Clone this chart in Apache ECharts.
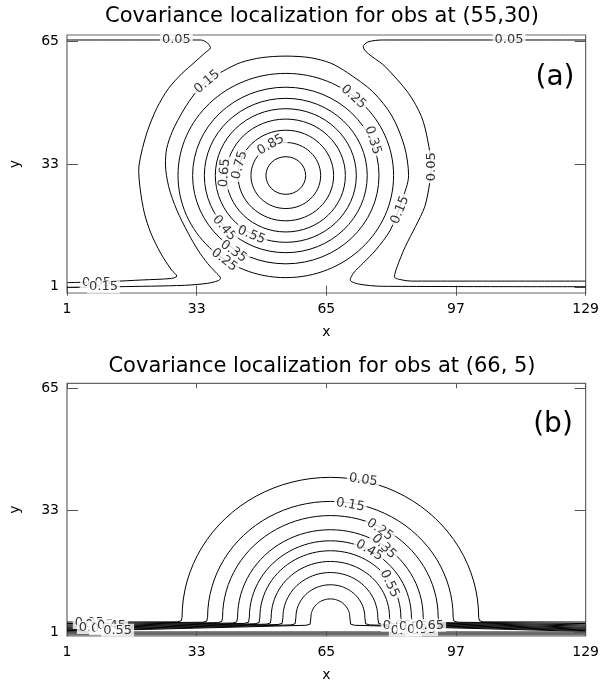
<!DOCTYPE html>
<html>
<head>
<meta charset="utf-8">
<script src="https://cdn.jsdelivr.net/npm/echarts@6/dist/echarts.min.js"></script>
<style>
html,body{margin:0;padding:0;background:#fff;}
#chart{width:602px;height:683px;}
</style>
</head>
<body>
<div id="chart"></div>
<script>
// ---------------- data ----------------
const xTicks = [1, 33, 65, 97, 129];
const yTicks = [1, 33, 65];
const levels = [0.05, 0.15, 0.25, 0.35, 0.45, 0.55, 0.65, 0.75, 0.85, 0.95];

// panel (a): obs at (55,30)
const obsA = [55, 30];
// radii (grid units) of the closed contours 0.25 ... 0.95
const radiiA = [26.6, 23.0, 20.1, 17.4, 14.7, 11.8, 8.6, 4.9];
// open contours
const c005A_left = [[1,65.3],[34.0,65.3],[35.7,64.5],[36.4,63.3],[35.0,61.9],[32.6,59.6],[29.4,56.6],[26.0,52.6],[23.1,47.4],[20.8,41.4],[19.3,35.6],[18.7,31.4],[19.1,26.2],[20.1,20.2],[21.7,15.0],[24.1,9.8],[26.8,5.4],[28.1,3.8],[26.8,3.2],[19.6,2.8],[11.7,2.4],[1,2.1]];
const c005A_right = [[129,65.3],[78.9,65.3],[75.3,64.8],[74.1,63.6],[79.6,58.3],[85.3,51.4],[88.5,45.3],[90.0,39.3],[90.9,32.3],[90.5,28.0],[89.3,21.9],[87.0,16.7],[84.5,11.5],[82.5,6.3],[81.8,3.6],[83.7,2.8],[86.1,2.5],[129,2.5]];
const c015A = [[1,0.88],[13.6,1.04],[30,1.4],[35.7,1.93],[38.3,2.6],[38.9,3.2],[37.6,4.9],[35.7,7.1],[33.3,10.6],[30.9,15.0],[28.1,21.0],[26.1,27.1],[25.3,33.0],[25.6,37.0],[27.0,41.5],[29.8,47.1],[32.6,51.4],[35.6,54.6],[39.7,57.3],[43.8,59.4],[49,60.7],[55.0,61.1],[61,60.7],[66,59.3],[70.2,56.8],[76.5,51.8],[81.2,45.5],[84.3,37.5],[85.3,30],[83.7,23.6],[80.8,15.8],[77.2,10.6],[74.1,7.2],[71.7,4.6],[70.9,2.8],[72.9,1.75],[78.9,1.15],[129,1.04]];
const labelsA = [
  ['0.05',28.0,65.3,0],['0.05',110.1,65.3,0],['0.15',35.6,54.4,40],['0.25',71.7,50.5,-42],
  ['0.35',76.5,39.2,-72],['0.05',90.9,32.3,90],['0.15',83.2,21.0,68],['0.85',51.3,38.0,30],
  ['0.75',43.6,32.7,75],['0.65',39.9,30.7,85],['0.45',39.8,16.3,-50],['0.55',46.5,14.5,-22],
  ['0.35',42.1,10.2,-35],['0.25',39.8,8.0,-38],['0.05',8.3,2.1,0],['0.15',10.0,0.96,0]
];

// panel (b): obs at (66, 5)
const obsB = [66, 5];
const radiiB = [36.6, 30.3, 26.6, 22.9, 20.0, 17.4, 14.6, 11.7, 8.5, 4.8];
const footB  = [3.9, 3.8, 3.7, 3.6, 3.5, 3.4, 3.3, 3.2, 3.1, 3.0];
const edgeB  = [3.75, 3.35, 3.0, 2.7, 2.4, 2.15, 1.9, 1.7, 1.5, 1.3];
const lowB   = [0.35, 0.45, 0.55, 0.65, 0.75, 0.85, 0.95, 1.05, 1.15, 1.25];
const labelsB = [
  ['0.05',74.1,40.9,-8],['0.15',70.9,34.4,-10],['0.25',78.2,27.9,-35],['0.35',79.2,23.5,-45],
  ['0.45',75.6,22.5,-30],['0.55',80.6,13.8,-65],
  ['0.05',6.5,3.6,0],['0.15',9.0,3.1,0],['0.25',7.5,2.3,0],['0.35',10.5,2.0,0],['0.45',12.0,2.8,0],['0.55',13.5,1.6,0],
  ['0.65',82.5,2.9,0],['0.75',84.5,1.6,0],['0.85',86.5,2.6,0],['0.95',88.5,1.8,0],['0.65',90.5,2.9,0]
];

// ---------------- chart ----------------
const FONT = 'DejaVu Sans';
const chart = echarts.init(document.getElementById('chart'), null, {renderer:'canvas'});
const grids = [
  {left:55.5, top:35, width:533, height:258, show:true, borderColor:'#666', borderWidth:1.2, backgroundColor:'transparent'},
  {left:55.5, top:383.3, width:533, height:256.7, show:true, borderColor:'#666', borderWidth:1.2, backgroundColor:'transparent'}
];
const yRanges = [[-0.6, 66.6], [0.1, 66.2]];

const xAxes = [], yAxes = [];
[0,1].forEach(g => {
  xAxes.push({gridIndex:g, type:'value', min:1, max:129, position:'bottom',
    axisLine:{show:false}, splitLine:{show:false},
    axisTick:{show:true, inside:true, length:5, customValues:xTicks, lineStyle:{color:'#555'}},
    axisLabel:{show:true, customValues:xTicks, margin:9, fontSize:14, fontFamily:FONT, color:'#000'},
    name:'x', nameLocation:'middle', nameGap:32, nameTextStyle:{fontSize:14, fontFamily:FONT, color:'#000'}});
  xAxes.push({gridIndex:g, type:'value', min:1, max:129, position:'top',
    axisLine:{show:false}, splitLine:{show:false},
    axisTick:{show:true, inside:true, length:5, customValues:xTicks, lineStyle:{color:'#555'}},
    axisLabel:{show:false}});
  yAxes.push({gridIndex:g, type:'value', min:yRanges[g][0], max:yRanges[g][1], position:'left',
    axisLine:{show:false}, splitLine:{show:false},
    axisTick:{show:true, inside:true, length:11, customValues:yTicks, lineStyle:{color:'#555'}},
    axisLabel:{show:true, customValues:yTicks, margin:8, fontSize:14, fontFamily:FONT, color:'#000'},
    name:'y', nameLocation:'middle', nameGap:45, nameRotate:90, nameTextStyle:{fontSize:14, fontFamily:FONT, color:'#000'}});
  yAxes.push({gridIndex:g, type:'value', min:yRanges[g][0], max:yRanges[g][1], position:'right',
    axisLine:{show:false}, splitLine:{show:false},
    axisTick:{show:true, inside:true, length:11, customValues:yTicks, lineStyle:{color:'#555'}},
    axisLabel:{show:false}});
});

const lineStyle = {color:'#000', width:1};
function contourLine(data, g) {
  return {type:'line', xAxisIndex:g*2, yAxisIndex:g*2, data:data, showSymbol:false, symbol:'none',
    smooth:0.3, lineStyle:lineStyle, silent:true, z:2};
}
function labelSeries(list, g) {
  return {type:'scatter', xAxisIndex:g*2, yAxisIndex:g*2, symbolSize:0, silent:true, z:5,
    data: list.map(l => ({value:[l[1], l[2]], label:{show:true, formatter:l[0], rotate:l[3]}})),
    label:{show:true, position:'inside', fontSize:13, fontFamily:FONT, color:'#000',
      backgroundColor:'#fff', padding:[0,2]}};
}

const series = [
  // panel (a) closed contours
  {type:'custom', xAxisIndex:0, yAxisIndex:0, silent:true, z:2,
   data: radiiA.map(r => [obsA[0], obsA[1], r]),
   renderItem: (params, api) => {
     const c = api.coord([api.value(0), api.value(1)]);
     const s = api.size([api.value(2), api.value(2)], [api.value(0), api.value(1)]);
     return {type:'ellipse', shape:{cx:c[0], cy:c[1], rx:s[0], ry:s[1]},
       style:{stroke:'#000', fill:'none', lineWidth:1}};
   }},
  contourLine(c005A_left, 0),
  contourLine(c005A_right, 0),
  contourLine(c015A, 0),
  labelSeries(labelsA, 0),
  // panel (b) contours
  {type:'custom', xAxisIndex:2, yAxisIndex:2, silent:true, z:2,
   data: radiiB.map((r, i) => [r, footB[i], edgeB[i], lowB[i]]),
   renderItem: (params, api) => {
     const r = api.value(0), fy = api.value(1), ey = api.value(2), ly = api.value(3);
     const cx = obsB[0], cy = obsB[1];
     const pts = [];
     pts.push(api.coord([1, ey]));
     pts.push(api.coord([cx - r - 1.2, fy - 0.1]));
     pts.push(api.coord([cx - r - 0.2, fy + 0.2]));
     for (let k = 0; k <= 48; k++) {
       const t = Math.PI * (1 - k / 48);
       pts.push(api.coord([cx + r * Math.cos(t), cy + r * Math.sin(t)]));
     }
     pts.push(api.coord([cx + r + 0.2, fy + 0.2]));
     pts.push(api.coord([cx + r + 1.2, fy - 0.1]));
     pts.push(api.coord([129, ey]));
     return {type:'group', children:[
       {type:'polyline', shape:{points:pts}, style:{stroke:'#000', fill:'none', lineWidth:1}},
       {type:'polyline', shape:{points:[api.coord([1, ly]), api.coord([129, ly])]}, style:{stroke:'#555', fill:'none', lineWidth:0.6}}
     ]};
   }},
  labelSeries(labelsB, 1)
];

const titleStyle = {font:'normal 21px "DejaVu Sans"', fill:'#000', textAlign:'center', textVerticalAlign:'middle'};
chart.setOption({
  animation:false,
  backgroundColor:'#fff',
  grid:grids,
  xAxis:xAxes,
  yAxis:yAxes,
  series:series,
  graphic:[
    {type:'text', x:322, y:17, style:Object.assign({text:'Covariance localization for obs at (55,30)'}, titleStyle)},
    {type:'text', x:322, y:367, style:Object.assign({text:'Covariance localization for obs at (66, 5)'}, titleStyle)},
    {type:'text', x:555, y:78, style:{text:'(a)', font:'normal 28px "DejaVu Sans"', fill:'#000', textAlign:'center', textVerticalAlign:'middle'}},
    {type:'text', x:553, y:425, style:{text:'(b)', font:'normal 28px "DejaVu Sans"', fill:'#000', textAlign:'center', textVerticalAlign:'middle'}}
  ]
});
</script>
</body>
</html>
